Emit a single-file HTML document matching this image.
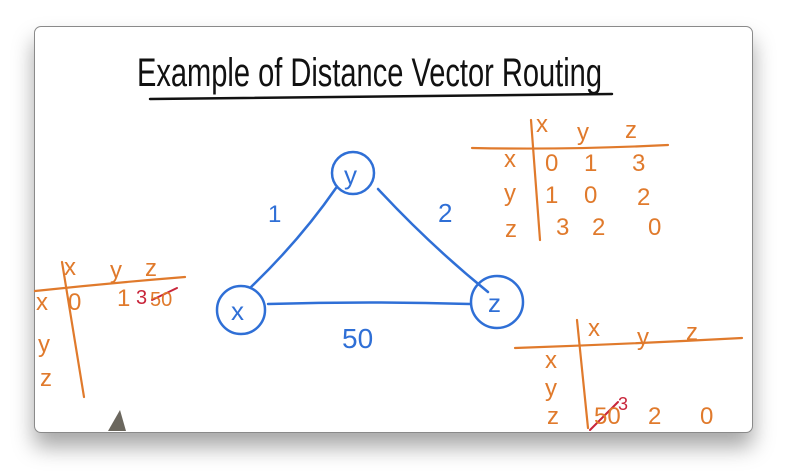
<!DOCTYPE html>
<html><head><meta charset="utf-8"><style>
html,body{margin:0;padding:0;width:788px;height:473px;overflow:hidden;background:#fff;}
.card{position:absolute;left:34px;top:26px;width:717px;height:405px;background:#fff;border:1px solid #8a8a8a;border-radius:7px;box-shadow:0 14px 22px rgba(0,0,0,0.35);overflow:hidden;}
svg{position:absolute;left:0;top:0;}
text{font-family:"Liberation Sans",sans-serif;}
.o{fill:#e07a2c;font-size:24px;}
.b{fill:#2f6fd6;}
</style></head><body>
<div class="card"></div>
<svg width="788" height="473" viewBox="0 0 788 473">
<g fill="none" stroke-linecap="round">
<path d="M150 99 Q380 96 612 94" stroke="#111" stroke-width="2.5"/>
<g stroke="#2f6fd6" stroke-width="2.5">
<circle cx="353" cy="173" r="21"/>
<circle cx="241" cy="310" r="24"/>
<circle cx="497" cy="302" r="26"/>
<path d="M336 188 Q300 240 251 287"/>
<path d="M378 189 Q430 245 488 292"/>
<path d="M268 304 Q370 301 470 304"/>
</g>
<g stroke="#e07a2c" stroke-width="2.2">
<path d="M472 148 Q570 150 668 145"/>
<path d="M531 120 L540 240"/>
<path d="M35 291 Q110 283 185 277"/>
<path d="M62 262 L84 397"/>
<path d="M515 348 Q630 344 742 338"/>
<path d="M577 320 L588 428"/>
</g>
<path d="M590 430 L618 402" stroke="#c8253a" stroke-width="2"/>
<path d="M152 300 L177 288" stroke="#c8253a" stroke-width="2"/>
<path d="M108 431 L120 410 L126 431 Z" fill="#6b675e" stroke="none"/>
</g>
<text x="137" y="86" font-size="40" fill="#111" textLength="465" lengthAdjust="spacingAndGlyphs">Example of Distance Vector Routing</text>
<text x="344" y="184" font-size="26" class="b">y</text>
<text x="231" y="320" font-size="26" class="b">x</text>
<text x="488" y="312" font-size="26" class="b">z</text>
<text x="268" y="222" font-size="24" class="b">1</text>
<text x="438" y="222" font-size="26" class="b">2</text>
<text x="342" y="348" font-size="28" class="b">50</text>
<g class="o">
<text x="536" y="132">x</text><text x="577" y="140">y</text><text x="625" y="138">z</text>
<text x="504" y="167">x</text><text x="545" y="171">0</text><text x="584" y="171">1</text><text x="632" y="171">3</text>
<text x="504" y="201">y</text><text x="545" y="203">1</text><text x="584" y="203">0</text><text x="637" y="205">2</text>
<text x="505" y="237">z</text><text x="556" y="235">3</text><text x="592" y="235">2</text><text x="648" y="235">0</text>
<text x="64" y="275">x</text><text x="110" y="278">y</text><text x="145" y="276">z</text>
<text x="36" y="310">x</text><text x="68" y="310">0</text><text x="117" y="306">1</text>
<text x="136" y="304" fill="#c8253a" font-size="20">3</text><text x="150" y="306" font-size="20">50</text>
<text x="38" y="352">y</text><text x="40" y="386">z</text>
<text x="588" y="336">x</text><text x="637" y="345">y</text><text x="686" y="340">z</text>
<text x="545" y="368">x</text><text x="545" y="396">y</text><text x="547" y="424">z</text>
<text x="594" y="424">50</text><text x="618" y="410" fill="#c8253a" font-size="18">3</text>
<text x="648" y="424">2</text><text x="700" y="424">0</text>
</g>
</svg>
</body></html>
